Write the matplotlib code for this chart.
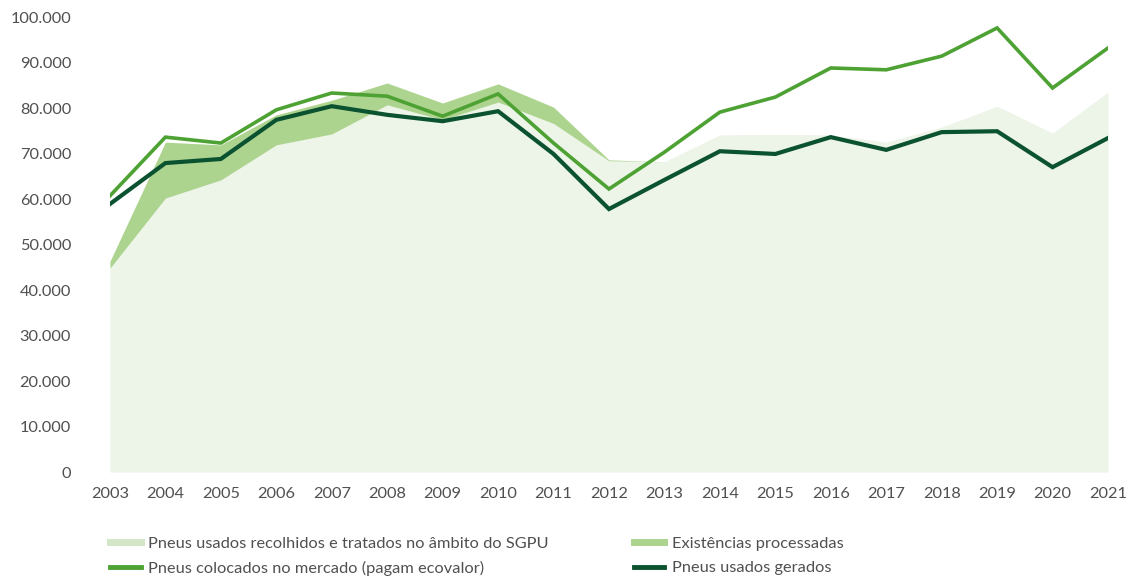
import numpy as np
import matplotlib.pyplot as plt
from matplotlib.lines import Line2D

# dados
anos = list(range(2003, 2022))
recolhidos = [44800, 60200, 64200, 71900, 74300, 80700, 77400, 81300, 76600, 68400,
              68200, 74100, 74200, 74100, 72500, 75800, 80400, 74500, 83500]
existencias = [1500, 12300, 7700, 6600, 7400, 4800, 3700, 4000, 3600, 200,
               0, 0, 0, 0, 0, 0, 0, 0, 0]
colocados = [60700, 73600, 72300, 79600, 83300, 82600, 78200, 83100, 72300, 62200,
             70300, 79100, 82400, 88800, 88400, 91400, 97600, 84400, 93200]
gerados = [58900, 67900, 68800, 77400, 80400, 78500, 77100, 79300, 69900, 57800,
           64200, 70500, 69900, 73600, 70800, 74700, 74900, 67000, 73400]

yticks = [0, 10000, 20000, 30000, 40000, 50000, 60000, 70000, 80000, 90000, 100000]
ytick_labels = ["0", "10.000", "20.000", "30.000", "40.000", "50.000",
                "60.000", "70.000", "80.000", "90.000", "100.000"]

c_light = "#edf4e8"
c_band = "#add48f"
c_mid = "#4da233"
c_dark = "#0b5230"

plt.rcParams['font.family'] = ['Lato', 'DejaVu Sans']

fig = plt.figure(figsize=(11.37, 5.79), dpi=100)
ax = fig.add_axes([0.0967, 0.1848, 0.8778, 0.7858])

x = np.array(anos)
rec = np.array(recolhidos)
topo = rec + np.array(existencias)

ax.fill_between(x, 0, rec, color=c_light, lw=0)
ax.fill_between(x, rec, topo, color=c_band, lw=0)
ax.plot(x, colocados, color=c_mid, lw=2.6, solid_joinstyle='miter')
ax.plot(x, gerados, color=c_dark, lw=3.0, solid_joinstyle='miter')

ax.set_xlim(2003, 2021)
ax.set_ylim(0, 100000)
ax.set_xticks(anos)
ax.set_xticklabels([str(a) for a in anos])
ax.set_yticks(yticks)
ax.set_yticklabels(ytick_labels)
ax.tick_params(axis='both', length=0, labelsize=11.8, labelcolor="#505050")
ax.tick_params(axis='y', pad=28)
ax.tick_params(axis='x', pad=11)
for s in ax.spines.values():
    s.set_visible(False)

handles = [
    Line2D([], [], color="#d3e6c7", lw=5),
    Line2D([], [], color=c_mid, lw=3.5),
    Line2D([], [], color=c_band, lw=5),
    Line2D([], [], color=c_dark, lw=3.5),
]
labels = [
    "Pneus usados recolhidos e tratados no âmbito do SGPU",
    "Pneus colocados no mercado (pagam ecovalor)",
    "Existências processadas",
    "Pneus usados gerados",
]
fig.legend(handles, labels, ncol=2, frameon=False, loc='upper left',
           bbox_to_anchor=(0.097, 0.074), fontsize=11.8, labelcolor="#505050",
           handlelength=1.85, handletextpad=0.45, columnspacing=5.2,
           labelspacing=0.62, borderaxespad=0, borderpad=0)

fig.savefig("out.png", dpi=100)
